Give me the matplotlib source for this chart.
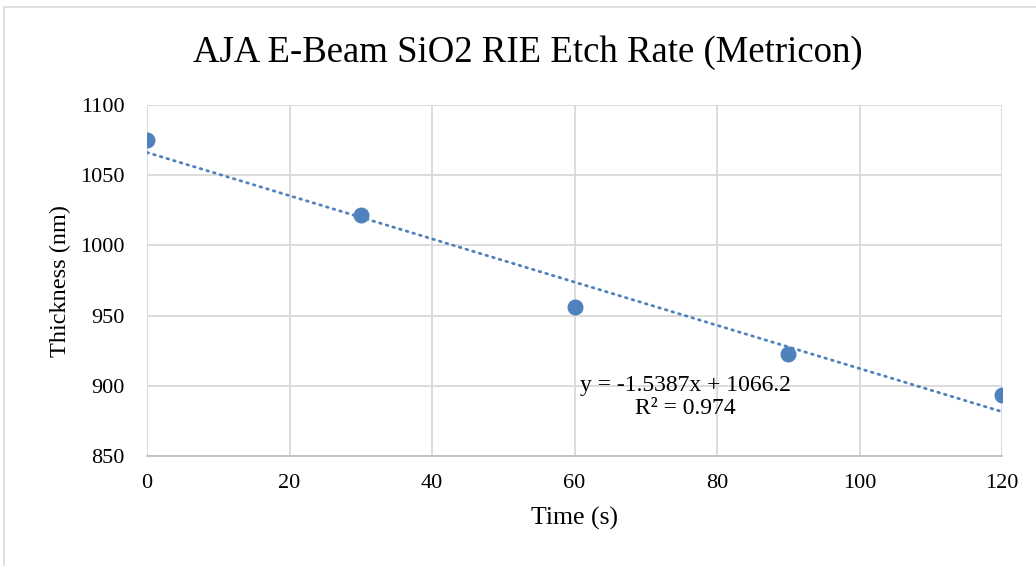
import matplotlib
matplotlib.use("Agg")
import matplotlib.pyplot as plt
from matplotlib.patches import Rectangle
import numpy as np

plt.rcParams['font.family'] = ['Liberation Serif', 'DejaVu Serif']

# measured thickness vs etch time
time_s = [0, 30, 60, 90, 120]
thickness_nm = [1075.0, 1021.7, 956.0, 923.0, 893.5]

# linear trendline as reported
slope = -1.5387
intercept = 1066.2
r2 = 0.974

xticks = [0, 20, 40, 60, 80, 100, 120]
yticks = [850, 900, 950, 1000, 1050, 1100]

blue = '#4F81BD'
grid_c = '#D9D9D9'

fig = plt.figure(figsize=(10.36, 5.66), dpi=100)
ax = fig.add_axes([0.1419, 0.1943, 0.8253, 0.6202])

# chart frame
fig.patches.append(Rectangle((0.004, -0.5), 1.5, 1.4876, transform=fig.transFigure,
                             fill=False, edgecolor=grid_c, linewidth=1.2))

xs = np.array([0, 120])
ax.plot(xs, slope * xs + intercept, color=blue, linewidth=2.0,
        linestyle=(0, (0.6, 1.9)), dash_capstyle='round', zorder=3)
ax.plot(time_s, thickness_nm, 'o', color=blue, markersize=10.5, zorder=4)

ax.set_xlim(0, 120)
ax.set_ylim(850, 1100)
ax.set_xticks(xticks)
ax.set_yticks(yticks)
ax.grid(True, color=grid_c, linewidth=1.3)
ax.set_axisbelow(True)
for s in ['top', 'right', 'left']:
    ax.spines[s].set_visible(False)
ax.spines['bottom'].set_color('#BFBFBF')
ax.spines['bottom'].set_linewidth(1.3)
ax.tick_params(length=0, labelsize=16, pad=13)
ax.tick_params(axis='y', pad=16)

ax.set_xlabel('Time (s)', fontsize=18.5, labelpad=10)
ax.set_ylabel('Thickness (nm)', fontsize=17.5, labelpad=7)
fig.text(0.509, 1 - 62 / 566, 'AJA E-Beam SiO2 RIE Etch Rate (Metricon)',
         fontsize=26.5, ha='center', va='baseline')

ax.text(75.6, 892, 'y = %.4fx + %.1f\nR² = %.3f' % (slope, intercept, r2),
        ha='center', va='center', fontsize=17, linespacing=1.1)

fig.savefig('out.png', dpi=100)
